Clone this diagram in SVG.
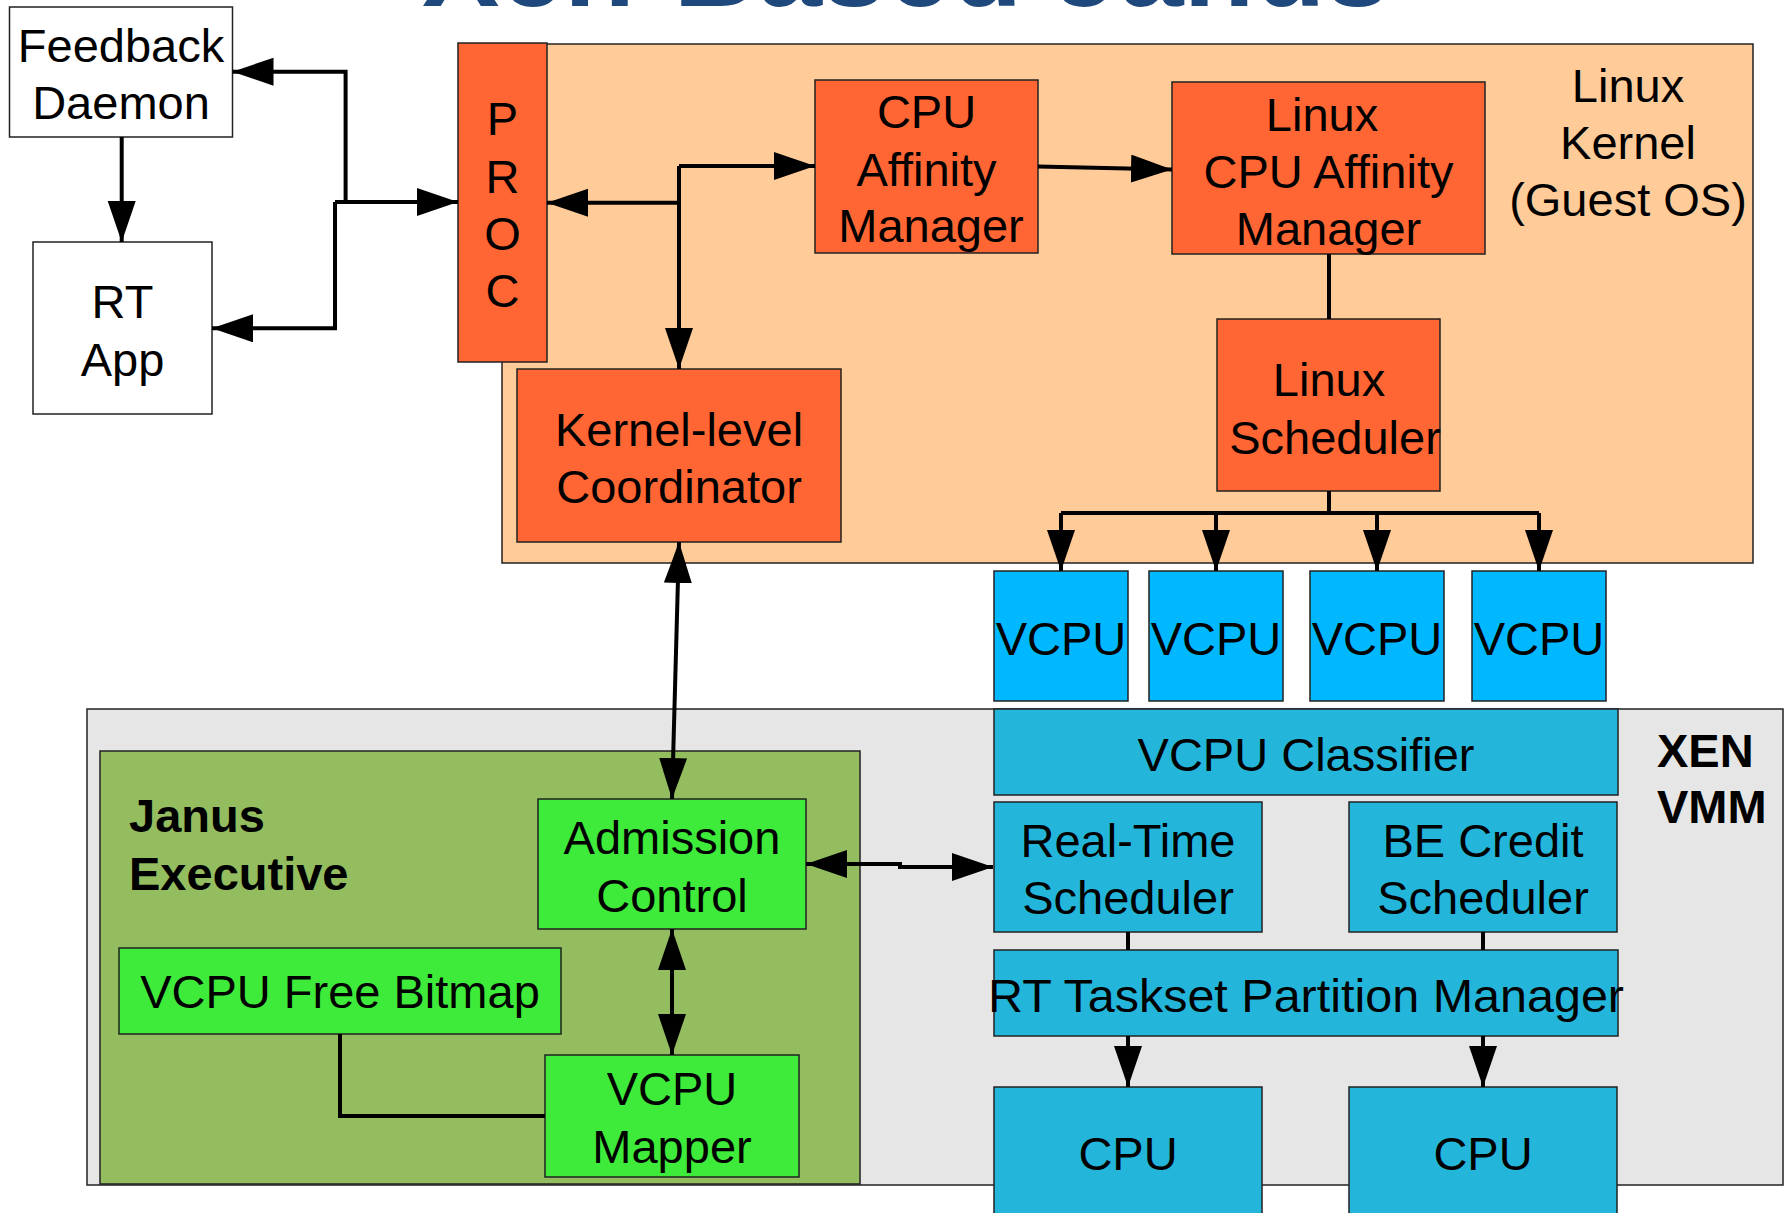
<svg xmlns="http://www.w3.org/2000/svg" width="1788" height="1213" viewBox="0 0 1788 1213">
<style>
text{font-family:"Liberation Sans",Arial,sans-serif;font-size:47px;fill:#000}
.c{text-anchor:middle}
.b{font-weight:bold}
.box{stroke:#222;stroke-width:1.5}
.white{fill:#fff}
.orange{fill:#FF6633}
.peach{fill:#FFCC99}
.vcpu{fill:#00B8FF}
.xenb{fill:#23B6DA}
.grey{fill:#E6E6E6}
.janus{fill:#93BD5F}
.green{fill:#3EEA3A}
.ln{fill:none;stroke:#000;stroke-width:4}
.ar{marker-end:url(#ah)}
.ar2{marker-start:url(#ah);marker-end:url(#ah)}
</style>
<defs>
<marker id="ah" markerUnits="userSpaceOnUse" markerWidth="42" markerHeight="30" viewBox="0 0 42 30" refX="41" refY="14" orient="auto-start-reverse">
<path d="M0,0 L41,14 L0,28 z" fill="#000"/>
</marker>
</defs>

<text class="c b" x="906" y="6" textLength="968" lengthAdjust="spacingAndGlyphs" style="fill:#1F497D;font-size:116px">Xen-Based Janus</text>

<g id="linux-kernel">
<rect class="box peach" x="502" y="44" width="1251" height="519"/>
<text class="c" x="1628"><tspan x="1628" y="102">Linux</tspan><tspan x="1628" y="159">Kernel</tspan><tspan x="1628" y="216">(Guest OS)</tspan></text>
</g>
<g id="xen-vmm">
<rect class="box grey" x="87" y="709" width="1696" height="476"/>
<text class="b" x="1657"><tspan x="1657" y="767">XEN</tspan><tspan x="1657" y="823">VMM</tspan></text>
</g>
<g id="janus-executive">
<rect class="box janus" x="100" y="751" width="760" height="433"/>
<text class="b" x="129"><tspan x="129" y="832">Janus</tspan><tspan x="129" y="890">Executive</tspan></text>
</g>

<g id="feedback-daemon">
<rect class="box white" x="9.5" y="7" width="223" height="130"/>
<text class="c" x="121"><tspan x="121" y="62">Feedback</tspan><tspan x="121" y="119">Daemon</tspan></text>
</g>
<g id="rt-app">
<rect class="box white" x="33" y="242" width="179" height="172"/>
<text class="c" x="122.5"><tspan x="122.5" y="318">RT</tspan><tspan x="122.5" y="376">App</tspan></text>
</g>
<g id="proc">
<rect class="box orange" x="458" y="43" width="89" height="319"/>
<text class="c" x="502.5"><tspan x="502.5" y="135">P</tspan><tspan x="502.5" y="193">R</tspan><tspan x="502.5" y="250">O</tspan><tspan x="502.5" y="307">C</tspan></text>
</g>
<g id="cpu-affinity-manager">
<rect class="box orange" x="815" y="80" width="223" height="173"/>
<text class="c" x="926.5"><tspan x="926.5" y="128">CPU</tspan><tspan x="926.5" y="186">Affinity</tspan><tspan x="931" y="242">Manager</tspan></text>
</g>
<g id="linux-cpu-affinity-manager">
<rect class="box orange" x="1172" y="82" width="313" height="172"/>
<text class="c" x="1328.5"><tspan x="1322" y="131">Linux</tspan><tspan x="1328.5" y="188">CPU Affinity</tspan><tspan x="1328.5" y="245">Manager</tspan></text>
</g>
<g id="linux-scheduler">
<rect class="box orange" x="1217" y="319" width="223" height="172"/>
<text class="c" x="1331"><tspan x="1329" y="396">Linux</tspan><tspan x="1335" y="454">Scheduler</tspan></text>
</g>
<g id="kernel-level-coordinator">
<rect class="box orange" x="517" y="369" width="324" height="173"/>
<text class="c" x="679"><tspan x="679" y="446">Kernel-level</tspan><tspan x="679" y="503">Coordinator</tspan></text>
</g>

<g id="vcpu-1"><rect class="box vcpu" x="994" y="571" width="134" height="130"/><text class="c" x="1061" y="655">VCPU</text></g>
<g id="vcpu-2"><rect class="box vcpu" x="1149" y="571" width="134" height="130"/><text class="c" x="1216" y="655">VCPU</text></g>
<g id="vcpu-3"><rect class="box vcpu" x="1310" y="571" width="134" height="130"/><text class="c" x="1377" y="655">VCPU</text></g>
<g id="vcpu-4"><rect class="box vcpu" x="1472" y="571" width="134" height="130"/><text class="c" x="1539" y="655">VCPU</text></g>

<g id="vcpu-classifier"><rect class="box xenb" x="994" y="709" width="624" height="86"/><text class="c" x="1306" y="771">VCPU Classifier</text></g>
<g id="real-time-scheduler"><rect class="box xenb" x="994" y="802" width="268" height="130"/><text class="c" x="1128"><tspan x="1128" y="857">Real-Time</tspan><tspan x="1128" y="914">Scheduler</tspan></text></g>
<g id="be-credit-scheduler"><rect class="box xenb" x="1349" y="802" width="268" height="130"/><text class="c" x="1483"><tspan x="1483" y="857">BE Credit</tspan><tspan x="1483" y="914">Scheduler</tspan></text></g>
<g id="rt-taskset-partition-manager"><rect class="box xenb" x="994" y="950" width="624" height="86"/><text class="c" x="1306" y="1012" textLength="636" lengthAdjust="spacingAndGlyphs">RT Taskset Partition Manager</text></g>
<g id="cpu-1"><rect class="box xenb" x="994" y="1087" width="268" height="150"/><text class="c" x="1128" y="1170">CPU</text></g>
<g id="cpu-2"><rect class="box xenb" x="1349" y="1087" width="268" height="150"/><text class="c" x="1483" y="1170">CPU</text></g>

<g id="admission-control"><rect class="box green" x="538" y="799" width="268" height="130"/><text class="c" x="672"><tspan x="672" y="854">Admission</tspan><tspan x="672" y="912">Control</tspan></text></g>
<g id="vcpu-free-bitmap"><rect class="box green" x="119" y="948" width="442" height="86"/><text class="c" x="340" y="1008">VCPU Free Bitmap</text></g>
<g id="vcpu-mapper"><rect class="box green" x="545" y="1055" width="254" height="122"/><text class="c" x="672"><tspan x="672" y="1105">VCPU</tspan><tspan x="672" y="1163">Mapper</tspan></text></g>

<g id="connectors">
<path class="ln ar" d="M121.7,137 V242"/>
<path class="ln" d="M335,202 H345.6"/>
<path class="ln ar" d="M335,202 H458"/>
<path class="ln ar" d="M345.6,202 V71.7 H232.5"/>
<path class="ln ar" d="M335,202 V328.3 H212"/>
<path class="ln ar" d="M679,202.7 H547"/>
<path class="ln ar" d="M679,166 V369"/>
<path class="ln ar" d="M679,166 H815"/>
<path class="ln ar" d="M1038,166.5 L1172,169.5"/>
<path class="ln" d="M1329,254 V319"/>
<path class="ln" d="M1329,491 V513"/>
<path class="ln" d="M1061,513 H1539"/>
<path class="ln ar" d="M1061,513 V571"/>
<path class="ln ar" d="M1216,513 V571"/>
<path class="ln ar" d="M1377,513 V571"/>
<path class="ln ar" d="M1539,513 V571"/>
<path class="ln ar2" d="M679,542 L672,799"/>
<path class="ln ar2" d="M806,864 H900 V867 H993"/>
<path class="ln ar2" d="M672,929 V1055"/>
<path class="ln" d="M340,1034 V1116 H545"/>
<path class="ln" d="M1128,932 V950"/>
<path class="ln" d="M1483,932 V950"/>
<path class="ln ar" d="M1128,1036 V1087"/>
<path class="ln ar" d="M1483,1036 V1087"/>
</g>
</svg>
